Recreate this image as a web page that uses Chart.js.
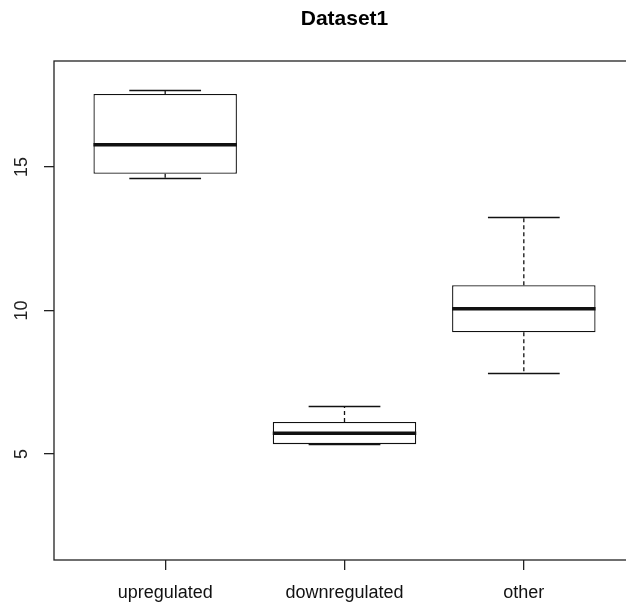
<!DOCTYPE html>
<html>
<head>
<meta charset="utf-8">
<script src="https://cdn.jsdelivr.net/npm/chart.js@4"></script>
<style>
  html, body { margin: 0; padding: 0; background: #fff; overflow: hidden; }
  #wrap { width: 645px; height: 607px; }
</style>
</head>
<body>
<div id="wrap"><canvas id="boxChart"></canvas></div>
<script>
// Box plot values
const groups = ["upregulated", "downregulated", "other"];
const positions = [1, 2, 3];
const whiskerLow = [14.62, 5.34, 7.81];
const q1 = [14.77, 5.34, 9.24];
const medians = [15.78, 5.72, 10.06];
const q3 = [17.55, 6.11, 10.88];
const whiskerHigh = [17.70, 6.67, 13.26];
const yTicks = [5, 10, 15];

const title = "Dataset1";
const font = "'Liberation Sans', Arial, sans-serif";

// Median, whiskers, caps, frame, title and rotated y labels
const boxExtras = {
  id: "boxExtras",
  afterDatasetsDraw(chart) {
    const ctx = chart.ctx;
    const x = chart.scales.x;
    const y = chart.scales.y;
    const area = chart.chartArea;
    const meta = chart.getDatasetMeta(0);

    ctx.save();
    ctx.strokeStyle = "#111";
    groups.forEach((g, i) => {
      const cx = x.getPixelForValue(positions[i]);
      const half = meta.data[i].width / 2;
      const cap = half / 2;

      // whiskers
      ctx.lineWidth = 1.3;
      ctx.setLineDash([4, 3]);
      ctx.beginPath();
      if (whiskerHigh[i] > q3[i]) {
        ctx.moveTo(cx, y.getPixelForValue(q3[i]));
        ctx.lineTo(cx, y.getPixelForValue(whiskerHigh[i]));
      }
      if (whiskerLow[i] < q1[i]) {
        ctx.moveTo(cx, y.getPixelForValue(q1[i]));
        ctx.lineTo(cx, y.getPixelForValue(whiskerLow[i]));
      }
      ctx.stroke();

      // caps
      ctx.setLineDash([]);
      ctx.beginPath();
      [whiskerHigh[i], whiskerLow[i]].forEach(v => {
        const py = Math.round(y.getPixelForValue(v)) + 0.5;
        ctx.moveTo(cx - cap, py);
        ctx.lineTo(cx + cap, py);
      });
      ctx.stroke();

      // median
      ctx.lineWidth = 3.5;
      ctx.beginPath();
      const my = y.getPixelForValue(medians[i]);
      ctx.moveTo(cx - half, my);
      ctx.lineTo(cx + half, my);
      ctx.stroke();
    });

    // frame
    ctx.lineWidth = 1.3;
    ctx.strokeStyle = "#222";
    ctx.strokeRect(area.left, area.top, area.right - area.left, area.bottom - area.top);

    // y tick labels (rotated, like R)
    ctx.fillStyle = "#222";
    ctx.font = "18px " + font;
    ctx.textAlign = "center";
    ctx.textBaseline = "middle";
    yTicks.forEach(t => {
      ctx.save();
      ctx.translate(22, y.getPixelForValue(t));
      ctx.rotate(-Math.PI / 2);
      ctx.fillText(String(t), 0, 0);
      ctx.restore();
    });

    // title centred on the plot region
    ctx.fillStyle = "#000";
    ctx.font = "bold 21px " + font;
    ctx.fillText(title, (area.left + area.right) / 2, 19);
    ctx.restore();
  }
};

new Chart(document.getElementById("boxChart"), {
  type: "bar",
  data: {
    datasets: [{
      data: groups.map((g, i) => ({ x: positions[i], y: [q1[i], q3[i]] })),
      backgroundColor: "#fff",
      borderColor: "#111",
      borderWidth: 1.3,
      borderSkipped: false,
      barPercentage: 0.8,
      categoryPercentage: 1
    }]
  },
  options: {
    responsive: true,
    maintainAspectRatio: false,
    animation: false,
    layout: { padding: { top: 61, right: 10, left: 0, bottom: 0 } },
    plugins: {
      legend: { display: false },
      tooltip: { enabled: false },
      title: { display: false }
    },
    scales: {
      x: {
        type: "linear",
        min: 0.38,
        max: 3.62,
        offset: false,
        afterBuildTicks(scale) {
          scale.ticks = positions.map(v => ({ value: v }));
        },
        grid: {
          display: true,
          offset: false,
          drawOnChartArea: false,
          drawTicks: true,
          tickLength: 10,
          color: "#222",
          lineWidth: 1.3
        },
        border: { display: false },
        ticks: {
          color: "#111",
          font: { family: font, size: 18 },
          padding: 12,
          maxRotation: 0,
          callback: v => groups[positions.indexOf(v)]
        },
        afterFit(scale) { scale.height = 47; }
      },
      y: {
        min: 1.3,
        max: 18.7,
        afterBuildTicks(scale) {
          scale.ticks = yTicks.map(v => ({ value: v }));
        },
        grid: {
          display: true,
          drawOnChartArea: false,
          drawTicks: true,
          tickLength: 10,
          color: "#222",
          lineWidth: 1.3
        },
        border: { display: false },
        ticks: { display: false },
        afterFit(scale) { scale.width = 54; }
      }
    }
  },
  plugins: [boxExtras]
});
</script>
</body>
</html>
